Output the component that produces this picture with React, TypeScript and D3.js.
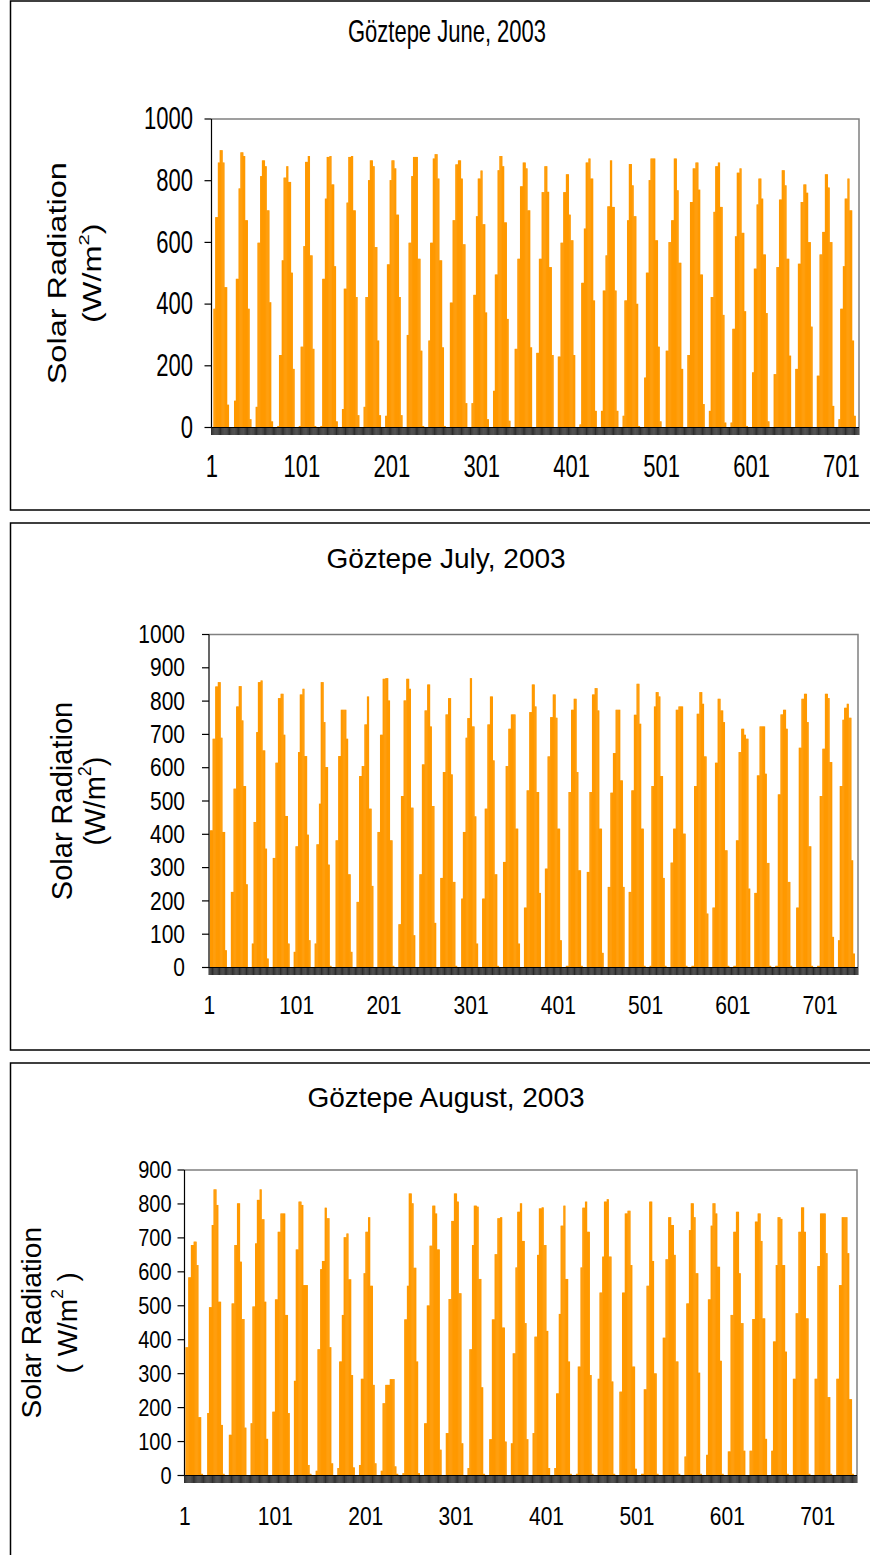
import React from 'react';
import * as d3 from 'd3';

// Hourly solar radiation (W/m²), one row per day: daylight hours 1..19 of each day (night hours are zero)
const JUNE_DAYS: number[][] = [
  [0,385,385,682,682,682,859,859,899,899,899,859,859,455,455,455,74,74,0],
  [87,87,482,482,482,775,775,892,892,892,880,880,672,672,672,385,385,27,27],
  [67,67,599,599,599,815,815,866,866,866,847,847,704,704,704,406,406,20,20],
  [5,5,235,235,235,542,542,810,810,810,847,847,796,796,796,502,502,190,190],
  [5,5,262,262,262,588,588,861,861,861,880,880,558,558,558,255,255,5,5],
  [5,5,482,482,482,742,742,877,877,877,880,880,788,788,788,523,523,20,20],
  [60,60,450,450,450,729,729,877,877,877,880,880,704,704,704,423,423,40,40],
  [67,67,423,423,423,802,802,866,866,866,847,847,585,585,585,282,282,40,40],
  [38,38,529,529,529,802,802,866,866,866,840,840,690,690,690,423,423,40,40],
  [300,300,599,599,599,815,815,877,877,877,877,877,547,547,547,249,249,5,5],
  [282,282,599,599,599,872,872,886,886,886,807,807,542,542,542,260,260,5,5],
  [405,405,405,672,672,672,853,853,853,866,866,866,807,807,594,594,594,79,79],
  [79,79,430,430,430,685,685,807,807,807,833,833,659,659,659,373,373,27,27],
  [119,119,496,496,496,834,834,880,880,880,847,847,665,665,665,352,352,22,22],
  [255,255,255,547,547,547,782,782,782,859,859,859,840,840,704,704,704,260,260],
  [242,242,242,547,547,547,763,763,763,847,847,847,764,764,520,520,520,235,235],
  [230,230,230,599,599,599,763,763,763,821,821,821,690,690,607,607,607,235,235],
  [10,10,469,469,469,645,645,859,859,859,872,872,807,807,807,412,412,54,54],
  [54,54,444,444,444,558,558,717,717,717,866,866,715,715,715,444,444,54,54],
  [38,38,412,412,412,672,672,854,854,854,785,785,685,685,685,401,401,5,5],
  [162,162,502,502,502,802,802,872,872,872,872,872,607,607,607,262,262,20,20],
  [249,249,249,601,601,601,672,672,672,872,872,872,769,769,534,534,534,190,190],
  [235,235,235,731,731,731,840,840,840,859,859,859,771,771,496,496,496,76,76],
  [54,54,423,423,423,699,699,847,847,847,859,859,715,715,715,365,365,16,16],
  [16,16,320,320,320,620,620,826,826,826,840,840,631,631,631,377,377,5,5],
  [179,179,515,515,515,723,723,807,807,807,742,742,561,561,561,371,371,20,20],
  [173,173,173,520,520,520,739,739,739,834,834,834,785,785,547,547,547,233,233],
  [190,190,190,531,531,531,731,731,731,788,788,788,761,761,601,601,601,327,327],
  [168,168,168,561,561,561,634,634,634,821,821,821,778,778,601,601,601,70,70],
  [27,27,385,385,385,523,523,742,742,742,807,807,704,704,704,282,282,38,38],
];

const JULY_DAYS: number[][] = [
  [412,412,412,687,687,687,844,844,844,857,857,857,690,690,407,407,407,52,52],
  [227,227,227,537,537,537,784,784,784,845,845,845,742,742,545,545,545,250,250],
  [72,72,437,437,437,707,707,857,857,857,862,862,652,652,652,357,357,27,27],
  [329,329,329,615,615,615,809,809,809,822,822,822,699,699,455,455,455,72,72],
  [47,47,364,364,364,647,647,820,820,820,837,837,635,635,635,399,399,82,82],
  [72,72,370,370,370,492,492,857,857,857,737,737,602,602,602,309,309,5,5],
  [382,382,382,635,635,635,774,774,774,774,774,774,687,687,280,280,280,47,47],
  [197,197,197,575,575,575,605,605,605,730,730,730,814,814,477,477,477,245,245],
  [407,407,407,699,699,699,867,867,867,869,869,869,802,802,382,382,382,5,5],
  [130,130,130,515,515,515,802,802,802,867,867,867,837,837,480,480,480,97,97],
  [280,280,280,610,610,610,772,772,772,850,850,850,724,724,485,485,485,134,134],
  [269,269,269,587,587,587,760,760,760,809,809,809,580,580,257,257,257,5,5],
  [207,207,407,407,407,690,690,749,749,749,869,869,724,724,724,454,454,72,72],
  [207,207,207,477,477,477,730,730,730,814,814,814,622,622,280,280,280,5,5],
  [317,317,317,605,605,605,717,717,717,760,760,760,760,760,417,417,417,72,72],
  [180,180,180,532,532,532,767,767,767,850,850,850,784,784,527,527,527,224,224],
  [297,297,297,634,634,634,752,752,752,820,820,820,750,750,417,417,417,82,82],
  [5,5,5,527,527,527,774,774,774,807,807,807,587,587,292,292,292,5,5],
  [287,287,287,527,527,527,820,820,820,839,839,839,772,772,417,417,417,44,44],
  [242,242,242,525,525,525,644,644,644,774,774,774,774,774,562,562,562,242,242],
  [227,227,227,532,532,532,759,759,759,852,852,852,732,732,417,417,417,5,5],
  [5,5,545,545,545,784,784,827,827,827,814,814,575,575,575,269,269,5,5],
  [315,315,315,417,417,417,774,774,774,784,784,784,784,784,402,402,402,5,5],
  [5,5,5,545,545,545,762,762,762,827,827,827,792,792,634,634,634,162,162],
  [180,180,180,615,615,615,807,807,807,772,772,772,737,737,352,352,352,5,5],
  [5,5,5,382,382,382,647,647,647,717,717,717,699,699,687,687,687,237,237],
  [224,224,224,577,577,577,724,724,724,724,724,724,582,582,314,314,314,5,5],
  [5,5,5,520,520,520,760,760,760,774,774,774,717,717,257,257,257,5,5],
  [180,180,180,660,660,660,807,807,807,822,822,822,737,737,364,364,364,5,5],
  [5,5,5,515,515,515,657,657,657,822,822,822,809,809,617,617,617,92,92],
  [82,82,545,545,545,744,744,780,780,780,792,792,750,750,750,322,322,42,42],
];

const AUG_DAYS: number[][] = [
  [378,378,378,584,584,584,679,679,679,689,689,689,620,620,172,172,172,5,5],
  [184,184,496,496,496,738,738,843,843,843,797,797,512,512,512,149,149,5,5],
  [120,120,120,507,507,507,679,679,679,802,802,802,630,630,461,461,461,141,141],
  [154,154,498,498,498,684,684,812,812,812,843,843,755,755,755,512,512,108,108],
  [188,188,188,519,519,519,718,718,718,772,772,772,772,772,473,473,473,184,184],
  [279,279,666,666,666,807,807,807,797,797,561,561,561,561,561,31,31,5,5],
  [14,14,372,372,372,608,608,632,632,632,789,789,758,758,758,378,378,36,36],
  [22,22,336,336,336,473,473,702,702,702,713,713,578,578,578,296,296,24,24],
  [31,31,285,285,285,596,596,718,718,718,761,761,559,559,559,267,267,36,36],
  [14,14,213,213,213,267,267,267,267,267,284,284,284,284,284,27,27,5,5],
  [7,7,460,460,460,559,559,831,831,831,802,802,612,612,612,336,336,7,7],
  [154,154,154,501,501,501,677,677,677,795,795,795,772,772,666,666,666,76,76],
  [125,125,125,520,520,520,750,750,750,831,831,831,807,807,537,537,537,95,95],
  [22,22,372,372,372,679,679,795,795,795,792,792,579,579,579,260,260,5,5],
  [107,107,107,460,460,460,652,652,652,758,758,758,761,761,436,436,436,100,100],
  [95,95,360,360,360,613,613,777,777,777,802,802,691,691,691,449,449,107,107],
  [125,125,409,409,409,650,650,787,787,787,790,790,679,679,679,426,426,22,22],
  [22,22,242,242,242,476,476,736,736,736,795,795,579,579,579,336,336,5,5],
  [5,5,321,321,321,613,613,789,789,789,807,807,718,718,718,296,296,5,5],
  [285,285,539,539,539,645,645,807,807,807,814,814,645,645,645,277,277,5,5],
  [247,247,247,539,539,539,772,772,772,780,780,780,620,620,321,321,321,20,20],
  [5,5,5,254,254,254,559,559,559,807,807,807,632,632,301,301,301,5,5],
  [406,406,406,637,637,637,761,761,761,738,738,738,650,650,336,336,336,5,5],
  [56,56,507,507,507,723,723,802,802,802,761,761,596,596,596,303,303,5,5],
  [61,61,519,519,519,736,736,802,802,802,772,772,615,615,615,338,338,5,5],
  [71,71,71,473,473,473,718,718,718,777,777,777,596,596,449,449,449,73,73],
  [73,73,73,461,461,461,748,748,748,772,772,772,691,691,463,463,463,108,108],
  [73,73,395,395,395,620,620,761,761,761,756,756,620,620,620,365,365,5,5],
  [285,285,285,478,478,478,718,718,718,790,790,790,718,718,463,463,463,5,5],
  [285,285,285,617,617,617,772,772,772,772,772,772,655,655,231,231,231,5,5],
  [285,285,285,561,561,561,761,761,761,761,761,761,655,655,225,225,225,5,5],
];

const X_TICKS = [1, 101, 201, 301, 401, 501, 601, 701];
const JUNE_Y_TICKS = [0, 200, 400, 600, 800, 1000];
const JULY_Y_TICKS = [0, 100, 200, 300, 400, 500, 600, 700, 800, 900, 1000];
const AUG_Y_TICKS = [0, 100, 200, 300, 400, 500, 600, 700, 800, 900];
const TITLES = ['Göztepe June, 2003', 'Göztepe July, 2003', 'Göztepe August, 2003'];

function hourly(days: number[][]): number[] {
  // each day: 1 night hour, 19 daylight hours, 4 night hours
  return days.flatMap((d) => [0, ...d, 0, 0, 0, 0]);
}

const FONT = "'Liberation Sans', Arial, Helvetica, sans-serif";
const ORANGE = '#FF9900';

const PANELS = [
  {
    title: TITLES[0], days: JUNE_DAYS, yTicks: JUNE_Y_TICKS, yMax: 1000,
    frameTop: 1, frameBottom: 510,
    left: 211.5, right: 859, top: 119, bottom: 427.5,
    titleY: 32, titleX: 447, titleSize: 22, titleStretch: 1.4,
    tickSize: 22, tickStretch: 1.4, xTickSize: 22, xLabelY: 467, yLabelGap: 18.5,
    yTitleX: 57, unitX: 92, yTitleSize: 25, yTitleStretch: 1.3, unitSpaced: false,
  },
  {
    title: TITLES[1], days: JULY_DAYS, yTicks: JULY_Y_TICKS, yMax: 1000,
    frameTop: 523, frameBottom: 1050,
    left: 209, right: 858, top: 634.5, bottom: 967.5,
    titleY: 558, titleX: 446, titleSize: 28, titleStretch: 1,
    tickSize: 21, tickStretch: 1.2, xTickSize: 21, xLabelY: 1005, yLabelGap: 24,
    yTitleX: 62, unitX: 95, yTitleSize: 29, yTitleStretch: 1, unitSpaced: false,
  },
  {
    title: TITLES[2], days: AUG_DAYS, yTicks: AUG_Y_TICKS, yMax: 900,
    frameTop: 1063, frameBottom: 1600,
    left: 184.5, right: 857, top: 1170, bottom: 1475.5,
    titleY: 1097, titleX: 446, titleSize: 28, titleStretch: 1,
    tickSize: 20, tickStretch: 1.2, xTickSize: 21, xLabelY: 1516, yLabelGap: 13,
    yTitleX: 31, unitX: 67, yTitleSize: 28, yTitleStretch: 1, unitSpaced: true,
  },
];

function Panel({ p }: { p: any }) {
  const values = hourly(p.days);
  const n = values.length;
  const band = d3.scaleBand<number>().domain(d3.range(n)).range([p.left, p.right]).paddingInner(0).paddingOuter(0);
  const x = d3.scaleLinear().domain([0, n]).range([p.left, p.right]);
  const y = d3.scaleLinear().domain([0, p.yMax]).range([p.bottom, p.top]);
  const bw = band.bandwidth();
  const tickPath = d3
    .range(n + 1)
    .map((i) => `M${x(i).toFixed(2)},${p.bottom}v7.5`)
    .join('');
  const midY = (p.top + p.bottom) / 2;
  const hText = (key: any, tx: number, ty: number, size: number, stretch: number, anchor: string, content: any) => (
    <text key={key} transform={`translate(${tx},${ty}) scale(1,${stretch})`} textAnchor={anchor}
      dominantBaseline="central" fontFamily={FONT} fontSize={size}>{content}</text>
  );
  return (
    <g>
      <rect x={10.5} y={p.frameTop} width={900} height={p.frameBottom - p.frameTop}
        fill="#fff" stroke="#000" strokeWidth={1.5} />
      {hText('title', p.titleX, p.titleY, p.titleSize, p.titleStretch, 'middle', p.title)}
      <g fill={ORANGE}>
        {values.map((v, i) =>
          v > 0 ? (
            <rect key={i} x={band(i)} y={y(v)} width={bw + 0.5} height={y(0) - y(v)} />
          ) : null
        )}
      </g>
      {/* plot border top/right */}
      <path d={`M${p.left},${p.top}H${p.right}V${p.bottom}`} fill="none" stroke="#808080" strokeWidth={1.5} />
      {/* category ticks */}
      <path d={tickPath} stroke="#000" strokeWidth={0.8} fill="none" />
      {/* axes */}
      <line x1={p.left} x2={p.right} y1={p.bottom} y2={p.bottom} stroke="#000" strokeWidth={1.2} />
      <line x1={p.left} x2={p.left} y1={p.top} y2={p.bottom} stroke="#000" strokeWidth={1.2} />
      {p.yTicks.map((t: number) => (
        <g key={t}>
          <line x1={p.left - 7} x2={p.left} y1={y(t)} y2={y(t)} stroke="#000" strokeWidth={1.2} />
          {hText('l' + t, p.left - p.yLabelGap, y(t), p.tickSize, p.tickStretch, 'end', t)}
        </g>
      ))}
      {X_TICKS.map((t) => hText('x' + t, x(t - 1 + 0.5), p.xLabelY, p.xTickSize, p.tickStretch, 'middle', t))}
      <text transform={`translate(${p.yTitleX},${midY}) rotate(-90) scale(${p.yTitleStretch},1)`} textAnchor="middle"
        dominantBaseline="central" fontFamily={FONT} fontSize={p.yTitleSize}>Solar Radiation</text>
      <text transform={`translate(${p.unitX},${midY}) rotate(-90) scale(${p.yTitleStretch},1)`} textAnchor="middle"
        dominantBaseline="central" fontFamily={FONT} fontSize={p.yTitleSize}>
        {p.unitSpaced ? '( W/m' : '(W/m'}
        <tspan baselineShift="super" fontSize={p.yTitleSize * 0.62}>2</tspan>
        {p.unitSpaced ? ' )' : ')'}
      </text>
    </g>
  );
}

export default function App() {
  return (
    <svg width={870} height={1555} style={{ position: 'absolute', left: 0, top: 0, background: '#fff' }}>
      <rect x={0} y={0} width={870} height={1555} fill="#fff" />
      {PANELS.map((p) => (
        <Panel key={p.title} p={p} />
      ))}
    </svg>
  );
}
